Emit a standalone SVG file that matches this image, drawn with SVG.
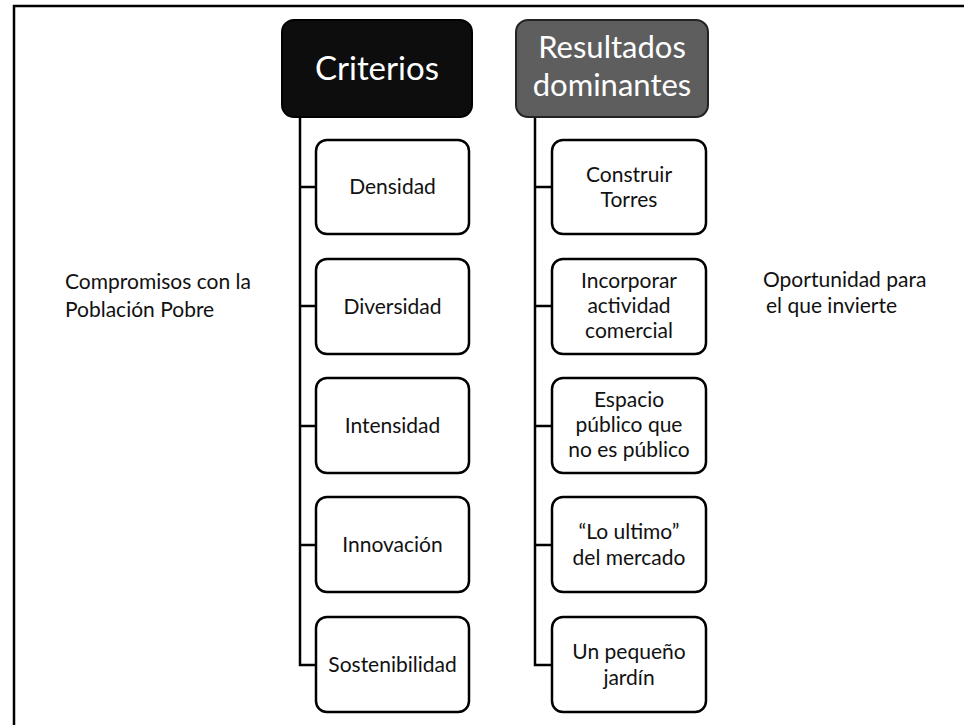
<svg xmlns="http://www.w3.org/2000/svg" width="964" height="725" viewBox="0 0 964 725">
<style>
.frame{fill:none;stroke:#000;stroke-width:2.5}
.box{fill:#fff;stroke:#000;stroke-width:2.5}
.hdr1{fill:#0d0d0d;stroke:#000;stroke-width:2}
.hdr2{fill:#5e5e5e;stroke:#222;stroke-width:2}
.conn{fill:none;stroke:#000;stroke-width:2.5}
text{font-family:Lato,"Open Sans","Liberation Sans",sans-serif;fill:#111}
.t{font-size:21px;text-anchor:middle}
.h{font-size:33px;text-anchor:middle;fill:#fff}
.h2{font-size:31px;text-anchor:middle;fill:#fff}
.side{font-size:21px}
</style>
<rect width="964" height="725" fill="#fff"/>
<g id="frame">
<path class="frame" d="M14,725 V6 H964"/>
</g>
<g id="connectors">
<path class="conn" d="M300,117 V665 H316"/>
<path class="conn" d="M300,187 H316 M300,306 H316 M300,426 H316 M300,545 H316"/>
<path class="conn" d="M535,117 V665 H552"/>
<path class="conn" d="M535,187 H552 M535,306 H552 M535,426 H552 M535,545 H552"/>
</g>
<g id="criterios">
<rect class="hdr1" x="282" y="20" width="190" height="97" rx="12"/>
<text class="h" x="377" y="80">Criterios</text>
</g>
<g id="resultados">
<rect class="hdr2" x="516" y="20" width="192" height="97" rx="12"/>
<text class="h2" x="612" y="58">Resultados</text>
<text class="h2" x="612" y="96">dominantes</text>
</g>
<g id="densidad">
<rect class="box" x="316" y="140" width="153" height="94" rx="11"/>
<text class="t" x="392.5" y="194">Densidad</text>
</g>
<g id="diversidad">
<rect class="box" x="316" y="259" width="153" height="95" rx="11"/>
<text class="t" x="392.5" y="314">Diversidad</text>
</g>
<g id="intensidad">
<rect class="box" x="316" y="378" width="153" height="95" rx="11"/>
<text class="t" x="392.5" y="433">Intensidad</text>
</g>
<g id="innovacion">
<rect class="box" x="316" y="497" width="153" height="95" rx="11"/>
<text class="t" x="392.5" y="552">Innovación</text>
</g>
<g id="sostenibilidad">
<rect class="box" x="316" y="617" width="153" height="95" rx="11"/>
<text class="t" x="392.5" y="672">Sostenibilidad</text>
</g>
<g id="construir">
<rect class="box" x="552" y="140" width="154" height="94" rx="11"/>
<text class="t" x="629" y="182">Construir</text>
<text class="t" x="629" y="207">Torres</text>
</g>
<g id="incorporar">
<rect class="box" x="552" y="259" width="154" height="95" rx="11"/>
<text class="t" x="629" y="288">Incorporar</text>
<text class="t" x="629" y="313">actividad</text>
<text class="t" x="629" y="338">comercial</text>
</g>
<g id="espacio">
<rect class="box" x="552" y="378" width="154" height="95" rx="11"/>
<text class="t" x="629" y="407">Espacio</text>
<text class="t" x="629" y="432">público que</text>
<text class="t" x="629" y="457">no es público</text>
</g>
<g id="loultimo">
<rect class="box" x="552" y="497" width="154" height="95" rx="11"/>
<text class="t" x="629" y="539">“Lo ultimo”</text>
<text class="t" x="629" y="565">del mercado</text>
</g>
<g id="jardin">
<rect class="box" x="552" y="617" width="154" height="95" rx="11"/>
<text class="t" x="629" y="659">Un pequeño</text>
<text class="t" x="629" y="685">jardín</text>
</g>
<g id="compromisos">
<text class="side" x="65" y="289">Compromisos con la</text>
<text class="side" x="65" y="317">Población Pobre</text>
</g>
<g id="oportunidad">
<text class="side" x="763" y="287">Oportunidad para</text>
<text class="side" x="766" y="313">el que invierte</text>
</g>
</svg>
